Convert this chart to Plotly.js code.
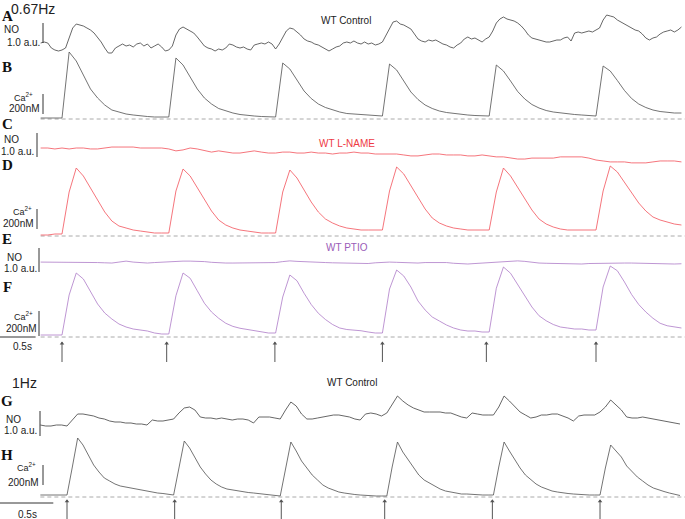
<!DOCTYPE html>
<html><head><meta charset="utf-8">
<script src="https://cdn.plot.ly/plotly-3.0.1.min.js"></script>
<style>html,body{margin:0;padding:0;background:#fff}#chart{width:685px;height:519px}</style>
</head><body><div id="chart"></div>
<script>
// ---- sampling grids (seconds, relative to first stimulus) ----
const slowStart = -0.3, slowStep = 0.1;      // 0.67 Hz Ca / drug NO records
const noSlowStep = 0.05;                      // 0.67 Hz control NO record
const fastStart = -0.25, fastStep = 0.05;     // 1 Hz records

// stimulus times (s)
const stimSlow = [0, 1.47, 2.99, 4.5, 5.96, 7.5];
const stimFast = [0, 1.01, 2.01, 2.98, 3.99, 5.0];

// A: NO, WT control, 0.67 Hz (a.u.)
const noControlSlow = [1.15,1.2,1.15,0.9,0.8,0.75,0.8,0.9,1.4,1.9,
2.1,2.05,2.0,1.9,1.8,1.65,1.45,1.2,0.9,0.65,
0.65,0.9,1.0,1.1,1.0,1.05,0.95,1.1,1.15,1.0,
1.1,0.9,1.0,1.1,0.95,0.75,0.8,1.0,1.55,1.85,
1.95,1.85,1.75,1.65,1.45,1.2,1.0,0.9,0.85,0.75,
0.85,0.8,0.9,1.1,1.05,0.95,0.9,0.95,0.85,0.8,
1.05,1.1,1.15,1.1,1.2,1.1,0.85,1.1,1.45,1.75,
1.9,1.85,1.7,1.55,1.35,1.25,1.2,1.1,1.05,0.95,
0.85,0.75,0.85,0.95,1.0,1.15,1.2,1.15,1.25,1.15,
1.1,1.2,1.1,1.15,1.05,1.1,1.2,1.55,1.9,2.2,
2.25,2.1,2.05,1.95,1.85,1.6,1.35,1.25,1.2,1.3,
1.25,1.3,1.2,1.1,1.05,0.95,0.9,1.05,1.15,1.35,
1.45,1.35,1.4,1.3,1.2,1.35,1.45,1.75,2.15,2.35,
2.45,2.35,2.3,2.25,2.15,2.0,1.8,1.55,1.4,1.35,
1.3,1.25,1.2,1.2,1.25,1.3,1.3,1.4,1.45,1.25,
1.65,1.7,1.65,1.7,1.75,1.7,1.8,1.9,2.3,2.55,
2.5,2.45,2.3,2.2,2.1,2.0,1.9,1.8,1.75,1.6,
1.4,1.3,1.4,1.45,1.6,1.7,1.75,1.8,1.7,1.8,
1.95];

// B: Ca2+, WT control, 0.67 Hz (nM above baseline)
const caControlSlow = [10,10,10,
10,670,580,440,300,210,140,90,70,50,40,30,25,20,20,
20,610,540,420,300,210,150,105,80,60,45,35,30,25,20,
20,560,500,390,280,205,150,115,90,70,55,50,45,40,35,
30,550,490,380,270,195,140,105,80,65,55,45,40,35,30,
30,540,480,380,275,200,145,110,85,70,60,50,45,40,35,
30,530,480,385,285,205,150,115,90,75,65,60,60];

// C: NO, WT L-NAME (a.u.)
const noLName = [0.75,0.75,0.71,0.75,0.71,0.75,0.75,0.71,0.71,0.75,
0.79,0.79,0.79,0.79,0.75,0.75,0.75,0.75,0.71,0.63,
0.67,0.75,0.71,0.63,0.58,0.63,0.58,0.54,0.54,0.58,
0.63,0.58,0.54,0.54,0.58,0.58,0.54,0.54,0.58,0.54,
0.54,0.5,0.54,0.54,0.58,0.54,0.54,0.5,0.5,0.5,
0.5,0.46,0.42,0.42,0.46,0.5,0.5,0.46,0.46,0.46,
0.42,0.42,0.46,0.42,0.38,0.38,0.33,0.29,0.29,0.33,
0.33,0.33,0.33,0.38,0.38,0.38,0.38,0.33,0.25,0.21,
0.17,0.17,0.17,0.13,0.13,0.13,0.17,0.21,0.21,0.21,
0.17];

// D: Ca2+, WT L-NAME (nM)
const caLName = [10,10,20,
20,440,680,600,480,360,240,150,100,80,60,50,40,30,30,
30,450,670,600,480,360,250,160,110,80,60,50,40,30,30,
30,440,660,580,460,340,240,170,130,100,80,70,60,60,60,
60,450,690,620,500,380,270,180,130,100,80,70,60,60,60,
60,440,680,600,490,370,260,170,120,90,70,60,60,60,60,
60,450,700,640,540,430,330,250,190,160,140,120,110];

// E: NO, WT PTIO (a.u.)
const noPtio = [0.58,0.58,0.58,0.58,0.58,0.59,0.58,0.57,0.56,0.55,
0.54,0.58,0.62,0.58,0.55,0.54,0.56,0.58,0.58,0.6,
0.62,0.62,0.62,0.6,0.57,0.54,0.54,0.54,0.54,0.54,
0.55,0.55,0.54,0.56,0.6,0.63,0.61,0.59,0.58,0.57,
0.56,0.55,0.54,0.53,0.52,0.5,0.52,0.55,0.57,0.58,
0.57,0.55,0.54,0.54,0.56,0.57,0.58,0.56,0.53,0.51,
0.5,0.52,0.54,0.55,0.56,0.58,0.61,0.63,0.61,0.57,
0.54,0.53,0.52,0.5,0.5,0.5,0.5,0.52,0.53,0.54,
0.55,0.55,0.54,0.54,0.53,0.53,0.52,0.52,0.51,0.5,
0.51];

// F: Ca2+, WT PTIO (nM)
const caPtio = [16,16,16,
16,336,512,464,360,264,192,144,104,80,64,56,48,32,24,
24,330,512,470,370,270,200,150,110,85,70,60,50,40,32,
32,320,496,450,350,260,190,140,100,72,60,56,50,40,32,
32,384,536,488,400,288,216,160,128,96,72,56,48,48,40,
40,390,560,510,420,320,240,170,130,100,80,72,64,64,56,
56,400,568,530,440,340,260,200,150,110,90,80,72];

// G: NO, WT control, 1 Hz (a.u.)
const noControlFast = [0.6,0.56,0.56,0.6,0.6,0.56,0.8,1.04,1.04,1.0,
0.96,0.88,0.84,0.76,0.72,0.72,0.68,0.68,0.64,0.64,
0.6,0.8,0.76,0.76,0.8,0.84,1.08,1.28,1.32,1.2,
0.92,0.88,0.88,0.84,0.88,0.84,0.8,0.84,0.84,0.8,
0.68,0.92,0.92,0.92,0.88,0.84,1.2,1.52,1.36,1.04,
0.84,0.84,0.88,0.92,0.96,1.0,1.0,0.96,0.92,0.84,
0.8,1.04,1.08,1.04,0.96,1.08,1.4,1.76,1.56,1.4,
1.28,1.2,1.12,1.12,1.12,1.12,1.08,1.08,1.0,0.92,
0.88,1.08,1.04,1.0,1.0,1.0,1.32,1.76,1.56,1.36,
1.12,1.0,0.88,0.92,1.0,1.0,1.04,1.04,0.96,0.88,
0.76,0.96,1.0,1.0,1.0,1.12,1.32,1.6,1.4,1.2,
0.92,0.88,0.88,0.92,0.88,0.84,0.8,0.76,0.72,0.68,
0.64];

// H: Ca2+, WT control, 1 Hz (nM)
const caControlFast = [20,20,20,20,20,
20,300,590,520,420,320,250,190,160,130,110,100,85,75,70,60,50,40,35,30,
20,290,560,490,400,300,230,170,130,100,80,70,60,50,45,40,35,30,25,20,
10,280,550,460,360,290,220,170,120,90,70,50,40,30,25,20,15,10,10,10,
10,300,550,450,370,290,220,170,140,110,80,60,50,40,30,30,25,20,20,20,
20,300,550,460,370,290,220,170,130,100,80,60,50,40,35,30,25,20,20,20,
20,290,520,460,400,310,250,200,160,120,90,70,55,40,25,15];

// ---- build ----
function grid(start, step, n){ return Array.from({length:n}, (_,i)=> +(start + i*step).toFixed(4)); }
const W = 685, H = 519;
const px = x => x / W;
const py = y => 1 - y / H;

const cDark = '#404040', cCa = '#505050', cRed = '#f2525a', cPur = '#ad7bc8';
const LW = 0.8;

function line(y, start, step, yax, xax, color){
  return {x: grid(start, step, y.length), y: y, xaxis: xax, yaxis: yax, type:'scatter', mode:'lines',
    line:{color: color, width: LW}, hoverinfo:'skip', connectgaps:false};
}
function stimTraces(times, xax, yax){
  return [
    {x: times.flatMap(t=>[t,t,null]), y: times.flatMap(()=>[0,1,null]), xaxis:xax, yaxis:yax,
     type:'scatter', mode:'lines', line:{color:'#555', width:1}, hoverinfo:'skip'},
    {x: times, y: times.map(()=>0.93), xaxis:xax, yaxis:yax, type:'scatter', mode:'markers',
     marker:{symbol:'triangle-up', size:4, color:'#555'}, hoverinfo:'skip', cliponaxis:false}
  ];
}
const data = [
  line(noControlSlow, slowStart, noSlowStep, 'y', 'x', cDark),
  line(caControlSlow, slowStart, slowStep, 'y2', 'x', cCa),
  line(noLName, slowStart, slowStep, 'y3', 'x', cRed),
  line(caLName, slowStart, slowStep, 'y4', 'x', cRed),
  line(noPtio, slowStart, slowStep, 'y5', 'x', cPur),
  line(caPtio, slowStart, slowStep, 'y6', 'x', cPur),
  line(noControlFast, fastStart, fastStep, 'y7', 'x2', cDark),
  line(caControlFast, fastStart, fastStep, 'y8', 'x2', cCa)
].concat(stimTraces(stimSlow, 'x', 'y9'), stimTraces(stimFast, 'x2', 'y10'));

const hid = {visible:false, fixedrange:true};
const layout = {
  width: W, height: H, margin:{l:0,r:0,t:0,b:0}, showlegend:false,
  paper_bgcolor:'#fff', plot_bgcolor:'rgba(0,0,0,0)',
  xaxis: Object.assign({domain:[0,1], range:[-0.871, 8.75], anchor:'y'}, hid),
  xaxis2: Object.assign({domain:[0,1], range:[-0.6285, 5.797], anchor:'y7'}, hid),
  yaxis: Object.assign({domain:[py(66), py(8)], range:[0, 2.9], anchor:'x'}, hid),
  yaxis2: Object.assign({domain:[py(122), py(46)], range:[-30, 730], anchor:'x'}, hid),
  yaxis3: Object.assign({domain:[py(166), py(126)], range:[0, 40/24], anchor:'x'}, hid),
  yaxis4: Object.assign({domain:[py(240), py(160)], range:[-40, 760], anchor:'x'}, hid),
  yaxis5: Object.assign({domain:[py(276), py(244)], range:[0, 32/24], anchor:'x'}, hid),
  yaxis6: Object.assign({domain:[py(340), py(264)], range:[-24, 584], anchor:'x'}, hid),
  yaxis7: Object.assign({domain:[py(440), py(392)], range:[0, 1.92], anchor:'x2'}, hid),
  yaxis8: Object.assign({domain:[py(500), py(432)], range:[-30, 650], anchor:'x2'}, hid),
  yaxis9: Object.assign({domain:[py(362), py(342)], range:[0, 1], anchor:'x'}, hid),
  yaxis10: Object.assign({domain:[py(519), py(500)], range:[0, 1], anchor:'x2'}, hid),
  shapes: [], annotations: []
};

// baselines (dashed)
const dash = {color:'#aaaaaa', width:1, dash:'4px,3px'};
[['y2','x',slowStart,8.75],['y4','x',slowStart,8.75],['y6','x',slowStart,8.75],['y8','x2',fastStart,5.797]].forEach(b=>{
  layout.shapes.push({type:'line', xref:b[1], yref:b[0], x0:b[2], x1:b[3], y0:0, y1:0, line:dash, layer:'below'});
});
// vertical scale bars
const bar = {color:'#333', width:1};
[[43,'y',1.15,2.15],[43,'y2',50,250],[37,'y3',0.375,1.375],[37,'y4',70,270],
 [39,'y5',1/6,7/6],[39,'y6',8,208],[40,'y7',0.16,1.16],[43,'y8',120,320]].forEach(b=>{
  layout.shapes.push({type:'line', xref:'paper', yref:b[1], x0:px(b[0]), x1:px(b[0]), y0:b[2], y1:b[3], line:bar});
});
// time scale bars (0.5 s)
layout.shapes.push({type:'line', xref:'x', yref:'paper', x0:-0.871, x1:-0.371, y0:py(337), y1:py(337), line:bar});
layout.shapes.push({type:'line', xref:'x2', yref:'paper', x0:-0.6285, x1:-0.1285, y0:py(503), y1:py(503), line:bar});

// text labels
const sans = 'Liberation Sans, Arial, sans-serif', serif = 'Liberation Serif, Times New Roman, serif';
function lab(text, x, y, size, opt){
  opt = opt || {};
  layout.annotations.push({text:text, xref:'paper', yref:'paper', x:px(x), y:py(y), showarrow:false,
    xanchor: opt.anchor || 'center', yanchor:'middle', borderpad:0,
    font:{family: opt.family || sans, size:size, color: opt.color || '#222'}});
}
function letter(t, x, y){ lab('<b>'+t+'</b>', x, y, 15, {family:serif, color:'#111'}); }
const ca = 'Ca<sup>2+</sup>';
lab('0.67Hz', 33, 9, 14);
letter('A', 7, 16);
lab('WT Control', 346, 20, 10);
lab('NO', 3, 30, 10, {anchor:'left'});
lab('1.0 a.u.', 41, 43, 10, {anchor:'right'});
letter('B', 7, 67);
lab(ca, 34, 97, 9, {anchor:'right'});
lab('200nM', 41, 108, 10, {anchor:'right'});
letter('C', 7, 124);
lab('NO', 3, 139, 10, {anchor:'left'});
lab('1.0 a.u.', 35, 151, 10, {anchor:'right'});
lab('WT L-NAME', 347, 143, 10, {color:'#ee3a44'});
letter('D', 7, 165);
lab(ca, 33, 211, 9, {anchor:'right'});
lab('200nM', 35, 224, 10, {anchor:'right'});
letter('E', 7, 239);
lab('NO', 6, 257, 10, {anchor:'left'});
lab('1.0 a.u.', 38, 268, 10, {anchor:'right'});
lab('WT PTIO', 347, 247, 10, {color:'#9a5cb8'});
letter('F', 7, 287);
lab(ca, 34, 316, 9, {anchor:'right'});
lab('200nM', 38, 328, 10, {anchor:'right'});
lab('0.5s', 22, 346, 10);
lab('1Hz', 25, 383, 14);
lab('WT Control', 352, 382, 10);
letter('G', 7, 401);
lab('NO', 13, 419, 10);
lab('1.0 a.u.', 38, 430, 10, {anchor:'right'});
letter('H', 7, 455);
lab(ca, 37, 467, 9, {anchor:'right'});
lab('200nM', 40, 482, 10, {anchor:'right'});
lab('0.5s', 27, 514, 10);

Plotly.newPlot('chart', data, layout, {staticPlot:true, displayModeBar:false});
</script>
</body></html>
